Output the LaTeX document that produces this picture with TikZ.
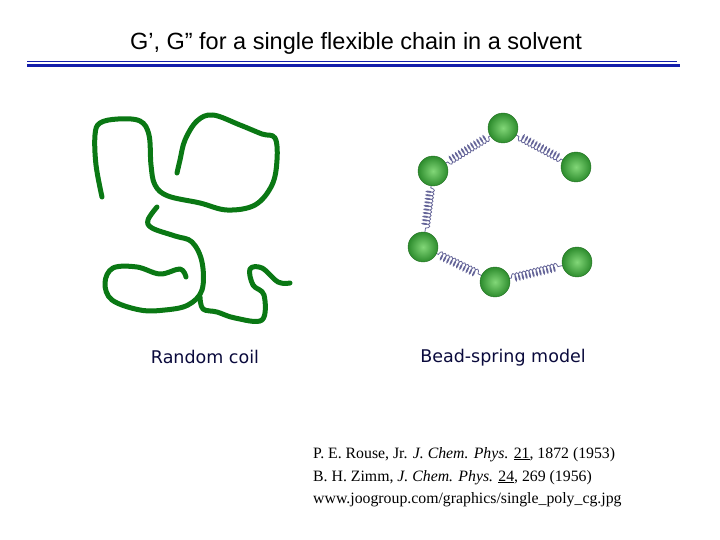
\documentclass[tikz,border=0pt]{standalone}
\usepackage{fontspec}
\setmainfont{Liberation Serif}
\newfontfamily\arialf{Liberation Sans}
\newfontfamily\dvs{DejaVu Sans}
\usetikzlibrary{decorations.pathmorphing,backgrounds}
\definecolor{chain}{RGB}{10,120,20}
\definecolor{rule}{RGB}{20,30,170}
\definecolor{beadin}{RGB}{130,215,120}
\definecolor{beadout}{RGB}{45,140,45}
\definecolor{lblc}{RGB}{10,10,60}
\tikzset{
  coilline/.style={draw=chain,line width=5pt,line cap=round,line join=round},
  bead/.style={circle,minimum size=30pt,inner sep=0pt,inner color=beadin,outer color=beadout,draw=beadout!80!black,line width=0.4pt},
  spring/.style={draw=gray!80!blue,line width=0.8pt,
    decoration={coil,aspect=0.35,segment length=3.6pt,amplitude=4pt,pre length=17pt,post length=17pt},decorate},
  lbl/.style={inner sep=0pt,anchor=base}
}
\begin{document}
\begin{tikzpicture}[x=1pt,y=-1pt]
\useasboundingbox (0,0) rectangle (720,540);
\node[lbl] (title) at (356,50) {\arialf\fontsize{23.5}{26}\selectfont G’, G” for a single flexible chain in a solvent};
\coordinate (r1a) at (27,61); \coordinate (r1b) at (677,61);
\coordinate (r2a) at (27,65.5); \coordinate (r2b) at (680,65.5);
\draw[rule,line width=0.8pt] (r1a) -- (r1b);
\draw[rule,line width=2.5pt] (r2a) -- (r2b);
% random coil
\draw[coilline] plot[smooth,tension=0.6] coordinates {(102,197) (96,165) (95,135) (100,123) (118,119) (140,121) (149,135) (151,165) (155,185) (168,196) (200,203) (227,210) (255,205) (272,185) (277,160) (275,138) (262,134) (240,125) (213,115) (197,121) (185,140) (180,160) (177,173)};
\draw[coilline] plot[smooth,tension=0.6] coordinates {(157,207) (148,220) (152,228) (175,236) (192,242) (202,262) (202,290) (188,305) (165,310) (140,310) (112,300) (105,283) (113,268) (137,267) (160,274) (180,269) (186,277)};
\draw[coilline] plot[smooth,tension=0.6] coordinates {(200,297) (203,309) (217,312) (235,318) (262,320) (264,295) (253,285) (250,269) (262,268) (278,282) (290,283)};
% bead spring
\node[bead] (b1) at (576,167) {};
\node[bead] (b2) at (503,128) {};
\node[bead] (b3) at (433,171) {};
\node[bead] (b4) at (423,247) {};
\node[bead] (b5) at (495,282) {};
\node[bead] (b6) at (577,262) {};
\begin{scope}[on background layer]
\draw[spring] (b1.center) -- (b2.center);
\draw[spring] (b2.center) -- (b3.center);
\draw[spring] (b3.center) -- (b4.center);
\draw[spring] (b4.center) -- (b5.center);
\draw[spring] (b5.center) -- (b6.center);
\end{scope}
\node[lbl,text=lblc] (rc) at (205,363) {\dvs\fontsize{17.5}{20}\selectfont Random coil};
\node[lbl,text=lblc] (bs) at (503,362) {\dvs\fontsize{17.5}{20}\selectfont Bead-spring model};
\node[lbl,anchor=base west] (ref1) at (313,458) {\fontsize{15.8}{18}\selectfont P. E. Rouse, Jr. \textit{J. Chem. Phys.} \underline{21}, 1872 (1953)};
\node[lbl,anchor=base west] (ref2) at (313,481) {\fontsize{15.8}{18}\selectfont B. H. Zimm, \textit{J. Chem. Phys.} \underline{24}, 269 (1956)};
\node[lbl,anchor=base west] (ref3) at (313,503) {\fontsize{15.8}{18}\selectfont www.joogroup.com/graphics/single\_poly\_cg.jpg};
\end{tikzpicture}
\end{document}
